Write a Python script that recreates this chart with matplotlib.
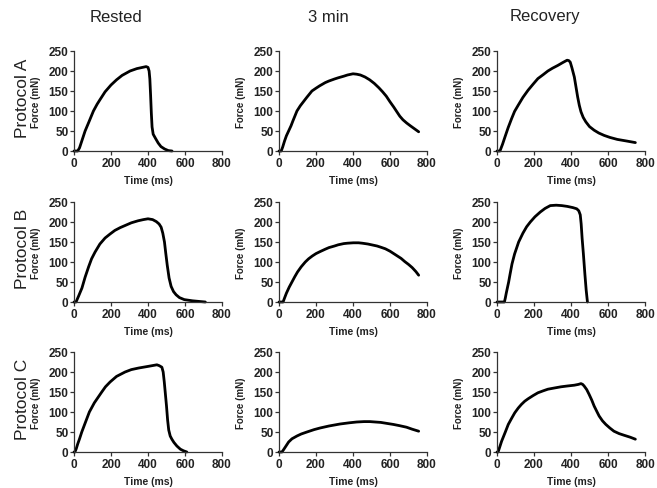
import matplotlib
matplotlib.use("Agg")
import matplotlib.pyplot as plt

plt.rcParams['font.family'] = ['Liberation Sans', 'DejaVu Sans']

col_titles = ["Rested", "3 min", "Recovery"]
row_titles = ["Protocol A", "Protocol B", "Protocol C"]
x_ticks = [0, 200, 400, 600, 800]
y_ticks = [0, 50, 100, 150, 200, 250]

# Protocol A
a_rest_t = [0, 20, 30, 40, 50, 60, 80, 105, 125, 140, 168, 200, 230, 260, 303, 340, 370, 390, 400,
            406, 410, 414, 418, 422, 428, 440, 455, 470, 490, 510, 530]
a_rest_f = [0, 0, 8, 22, 36, 50, 72, 100, 117, 128, 148, 165, 178, 189, 200, 206, 209, 211, 209,
            200, 180, 140, 95, 60, 42, 32, 20, 11, 5, 1, 0]
a_3min_t = [0, 12, 20, 30, 40, 52, 65, 75, 97, 115, 130, 150, 178, 200, 220, 250, 270, 300, 320, 350,
            370, 400, 420, 440, 465, 490, 515, 540, 560, 580, 600, 620, 640, 653, 670, 690, 710, 725, 740, 755]
a_3min_f = [0, 0, 10, 25, 38, 50, 63, 75, 100, 113, 122, 134, 150, 157, 163, 171, 175, 180, 183, 187,
            190, 193, 192, 190, 185, 178, 169, 158, 148, 137, 123, 110, 96, 87, 78, 70, 63, 58, 53, 48]
a_rec_t = [0, 16, 30, 43, 60, 79, 95, 114, 140, 168, 195, 221, 250, 275, 300, 329, 355, 379, 388, 396,
           405, 418, 427, 436, 445, 454, 466, 480, 500, 525, 550, 579, 610, 650, 700, 748]
a_rec_f = [0, 0, 17, 35, 58, 81, 99, 114, 134, 152, 167, 181, 191, 200, 207, 214, 221, 227, 226, 222,
           208, 185, 160, 135, 114, 98, 84, 73, 61, 52, 45, 39, 34, 29, 25, 21]

# Protocol B
b_rest_t = [0, 11, 25, 43, 60, 79, 95, 114, 140, 168, 195, 221, 250, 275, 310, 346, 375, 400, 425, 445,
            460, 471, 480, 489, 496, 504, 514, 525, 538, 552, 570, 596, 640, 686, 710]
b_rest_f = [0, 0, 15, 35, 62, 88, 108, 125, 145, 160, 170, 179, 186, 191, 198, 203, 206, 208, 206, 201,
            195, 187, 172, 150, 122, 92, 60, 39, 26, 18, 11, 6, 3, 1, 0]
b_3min_t = [0, 22, 30, 40, 55, 70, 85, 100, 120, 142, 160, 180, 200, 222, 250, 270, 300, 320, 350, 370,
            402, 430, 450, 480, 500, 530, 550, 575, 600, 620, 640, 660, 680, 700, 720, 740, 755]
b_3min_f = [0, 0, 10, 22, 37, 50, 63, 75, 88, 100, 108, 115, 121, 126, 132, 136, 140, 143, 146, 147,
            148, 148, 147, 145, 143, 140, 137, 133, 127, 121, 115, 109, 101, 94, 86, 76, 67]
b_rec_t = [0, 40, 45, 50, 56, 63, 70, 81, 95, 117, 140, 160, 180, 205, 234, 260, 288, 320, 350, 380,
           410, 431, 442, 450, 455, 460, 467, 475, 482, 487, 489]
b_rec_f = [0, 0, 10, 22, 35, 50, 68, 95, 120, 150, 172, 188, 200, 213, 225, 234, 241, 242, 241, 239,
           236, 233, 228, 218, 195, 160, 120, 70, 30, 8, 0]

# Protocol C
c_rest_t = [0, 5, 12, 20, 30, 42, 60, 83, 110, 150, 170, 195, 230, 276, 310, 350, 400, 448, 460, 475,
            482, 488, 493, 500, 506, 512, 520, 529, 540, 556, 575, 592, 610]
c_rest_f = [0, 0, 8, 20, 33, 50, 72, 100, 123, 150, 163, 175, 189, 200, 206, 210, 214, 218, 216, 212,
            200, 175, 150, 115, 80, 55, 40, 32, 24, 15, 7, 3, 0]
c_3min_t = [0, 16, 25, 35, 52, 70, 97, 120, 151, 190, 222, 270, 330, 380, 420, 460, 491, 520, 550, 590,
            617, 650, 689, 720, 755]
c_3min_f = [0, 0, 6, 13, 25, 33, 40, 45, 50, 56, 60, 65, 70, 73, 75, 76, 76, 75, 74, 71,
            69, 66, 62, 57, 52]
c_rec_t = [0, 6, 25, 45, 61, 80, 96, 115, 132, 150, 168, 195, 221, 250, 275, 310, 346, 380, 418, 440,
           454, 463, 471, 485, 498, 512, 525, 540, 552, 570, 588, 610, 632, 660, 686, 720, 748]
c_rec_f = [0, 0, 27, 50, 69, 85, 98, 110, 119, 127, 133, 141, 148, 153, 157, 160, 163, 165, 167, 169,
           171, 169, 165, 156, 144, 130, 115, 101, 90, 78, 69, 60, 52, 46, 42, 37, 32]

series = [
    [(a_rest_t, a_rest_f), (a_3min_t, a_3min_f), (a_rec_t, a_rec_f)],
    [(b_rest_t, b_rest_f), (b_3min_t, b_3min_f), (b_rec_t, b_rec_f)],
    [(c_rest_t, c_rest_f), (c_3min_t, c_3min_f), (c_rec_t, c_rec_f)],
]

W, H = 657, 489
fig = plt.figure(figsize=(W / 100, H / 100), dpi=100)
fig.patch.set_facecolor('white')

col_left = [74, 279, 497]
col_w = 148
row_top = [52, 203, 353]
row_h = 100
title_x = [116, 328, 545]
txt = '#222222'

for r in range(3):
    for c in range(3):
        ax = fig.add_axes([col_left[c] / W, 1 - (row_top[r] + row_h) / H, col_w / W, row_h / H])
        t, f = series[r][c]
        ax.plot(t, f, color='black', lw=2.0, solid_joinstyle='round',
                solid_capstyle='round', clip_on=False)
        ax.set_xlim(0, 800)
        ax.set_ylim(0, 250)
        ax.set_xticks(x_ticks)
        ax.set_yticks(y_ticks)
        for s in ['top', 'right']:
            ax.spines[s].set_visible(False)
        for s in ['left', 'bottom']:
            ax.spines[s].set_linewidth(0.9)
            ax.spines[s].set_color('#333333')
        ax.tick_params(direction='out', length=3, width=0.9, color='#333333',
                       labelsize=8.5, labelcolor=txt, pad=1)
        for lab in ax.get_xticklabels() + ax.get_yticklabels():
            lab.set_fontweight('bold')
        ax.set_ylabel("Force (mN)", fontsize=7, fontweight='bold', color=txt)
        ax.yaxis.set_label_coords(-0.22, 0.5)
        ax.set_xlabel("Time (ms)", fontsize=7.5, fontweight='bold', color=txt)
        ax.xaxis.set_label_coords(0.5, -0.245)
        ax.set_facecolor('none')

for c in range(3):
    fig.text(title_x[c] / W, 1 - 17 / H, col_titles[c],
             ha='center', va='center', fontsize=12, color=txt)

for r in range(3):
    fig.text(23 / W, 1 - (row_top[r] + row_h / 2 - 4) / H, row_titles[r], rotation=90,
             ha='center', va='center', fontsize=12.5, color=txt)

fig.savefig("out.png", dpi=100)
